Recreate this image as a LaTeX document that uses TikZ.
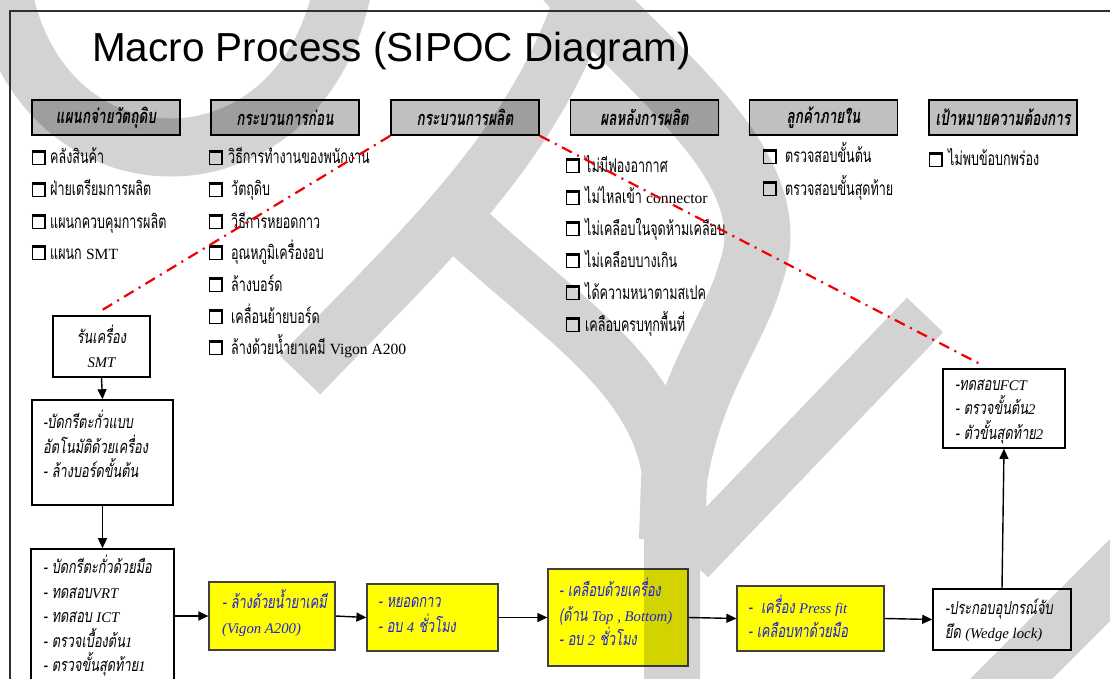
\documentclass[tikz,border=0pt]{standalone}
\usepackage{fontspec}
\setmainfont{Liberation Serif}
\newfontfamily\titlefont{Liberation Sans}
\newfontfamily\latfont[Scale=0.82]{Liberation Serif}
\newfontfamily\thaifont[Script=Thai,FakeStretch=0.66]{Loma}
\newfontfamily\thaibox[Script=Thai,FakeStretch=0.71]{Loma}
\newfontfamily\thaihead[Script=Thai,FakeStretch=0.68]{Loma}
\usetikzlibrary{arrows.meta}
\newcommand\lt[1]{{\latfont #1}}

\definecolor{hdrgray}{RGB}{192,192,192}
\definecolor{boxyellow}{RGB}{255,255,0}
\definecolor{inkblue}{RGB}{32,32,220}
\definecolor{dashred}{RGB}{240,0,0}
\definecolor{wmgray}{RGB}{211,211,211}
\definecolor{framegray}{RGB}{48,48,48}

\tikzset{
  hdr/.style={draw=black, line width=1.6pt, fill=hdrgray, minimum width=148pt,
    minimum height=35pt, inner sep=0pt},
  hdrtext/.style={inner sep=0pt, font=\thaihead\bfseries\itshape\fontsize{20}{22}\selectfont},
  item/.style={anchor=base west, inner sep=0pt, font=\thaifont\fontsize{19}{22}\selectfont},
  wbox/.style={draw=black, line width=1.6pt, fill=white, inner sep=0pt},
  ybox/.style={draw=black!75, line width=1.2pt, fill=boxyellow, inner sep=0pt},
  btext/.style={anchor=west, align=left, inner sep=0pt,
    font=\thaibox\itshape\fontsize{18}{24.5}\selectfont},
  arr/.style={line width=1.4pt, -{Triangle[length=10pt,width=9pt]}},
  redline/.style={dashred, line width=2.2pt, dash pattern=on 11pt off 6pt on 2pt off 6pt},
  wm/.style={wmgray, line cap=butt},
  chk/.pic={
    \draw[line width=0.9pt] (0,-6.5) rectangle (13,6.5);
    \draw[line width=2.3pt] (-0.5,-6.5) -- (13,-6.5) -- (13,7);
  }
}

% light grey watermark strokes
\newcommand\wmpaths{%
  \draw[wm, line width=58pt] (0,-25) .. controls (30,205) and (310,205) .. (345,-25);
  \draw[wm, line width=56pt] (300,375) .. controls (420,250) and (545,140) .. (590,-25);
  \draw[wm, line width=56pt] (450,215) .. controls (560,320) and (672,380) .. (672,500) -- (672,700);
  \draw[wm, line width=66pt] (565,-25) .. controls (660,80) and (790,170) .. (750,275)
        .. controls (735,330) and (690,380) .. (674,480) -- (672,540);
  \draw[wm, line width=50pt] (925,315) -- (690,560);
  \draw[wm, line width=58pt] (1160,530) -- (990,700);
}

\begin{document}
\begin{tikzpicture}[x=1pt,y=-1pt]
\useasboundingbox[fill=white] (0,0) rectangle (1110,679);

% watermark behind everything
\wmpaths

% page frame
\draw[framegray, line width=2.5pt] (10,700) -- (10,11) -- (1130,11);

% title
\node[anchor=base west, inner sep=0pt, font=\titlefont\fontsize{40.5}{44}\selectfont]
  (title) at (92,62) {Macro Process (SIPOC Diagram)};

% SIPOC column header boxes
\node[hdr] (h1) at (106,117.5)   {};
\node[hdr] (h2) at (285,117.5)   {};
\node[hdr] (h3) at (465,117.5)   {};
\node[hdr] (h4) at (644.5,117.5) {};
\node[hdr] (h5) at (823.5,117.5) {};
\node[hdr] (h6) at (1003,117.5)  {};

% process flow boxes
\node[wbox, minimum width=97pt,  minimum height=61pt]  (b1) at (101.5,346.5) {};
\node[wbox, minimum width=141pt, minimum height=105pt] (b2) at (102.5,452.5) {};
\node[wbox, minimum width=143pt, minimum height=151pt] (b3) at (102.5,624.5) {};
\node[ybox, minimum width=126pt, minimum height=68pt]  (y1) at (272,616) {};
\node[ybox, minimum width=131pt, minimum height=67pt]  (y2) at (432.5,617.5) {};
\node[ybox, minimum width=140pt, minimum height=97pt]  (y3) at (618,617.5) {};
\node[ybox, minimum width=147pt, minimum height=65pt]  (y4) at (810.5,618.5) {};
\node[wbox, minimum width=138pt, minimum height=61pt]  (w1) at (1002,619.5) {};
\node[wbox, minimum width=122pt, minimum height=79pt]  (w2) at (1004,408.5) {};

% the watermark shows through the filled boxes
\begin{scope}[blend mode=multiply]
  \clip (h1.south west) rectangle (h1.north east)
        (h2.south west) rectangle (h2.north east)
        (h3.south west) rectangle (h3.north east)
        (h4.south west) rectangle (h4.north east)
        (h5.south west) rectangle (h5.north east)
        (h6.south west) rectangle (h6.north east)
        (b1.south west) rectangle (b1.north east)
        (b2.south west) rectangle (b2.north east)
        (b3.south west) rectangle (b3.north east)
        (y1.south west) rectangle (y1.north east)
        (y2.south west) rectangle (y2.north east)
        (y3.south west) rectangle (y3.north east)
        (y4.south west) rectangle (y4.north east)
        (w1.south west) rectangle (w1.north east)
        (w2.south west) rectangle (w2.north east);
  \wmpaths
\end{scope}

% header texts
\node[hdrtext] (h1t) at (h1) {แผนกจ่ายวัตถุดิบ};
\node[hdrtext] (h2t) at (h2) {กระบวนการก่อน};
\node[hdrtext] (h3t) at (h3) {กระบวนการผลิต};
\node[hdrtext] (h4t) at (h4) {ผลหลังการผลิต};
\node[hdrtext] (h5t) at (h5) {ลูกค้าภายใน};
\node[hdrtext] (h6t) at (h6) {เป้าหมายความต้องการ};

% suppliers
\foreach \y in {158,190,222,253} \pic at (32,\y) {chk};
\node[item] (s1) at (50,164) {คลังสินค้า};
\node[item] (s2) at (50,196) {ฝ่ายเตรียมการผลิต};
\node[item] (s3) at (50,228) {แผนกควบคุมการผลิต};
\node[item] (s4) at (50,259) {แผนก \lt{SMT}};

% inputs
\foreach \y in {158,190,222,253,285,317,348} \pic at (209,\y) {chk};
\node[item] (i1) at (228,164) {วิธีการทำงานของพนักงาน};
\node[item] (i2) at (231,196) {วัตถุดิบ};
\node[item] (i3) at (231,228) {วิธีการหยอดกาว};
\node[item] (i4) at (231,259) {อุณหภูมิเครื่องอบ};
\node[item] (i5) at (231,291) {ล้างบอร์ด};
\node[item] (i6) at (231,323) {เคลื่อนย้ายบอร์ด};
\node[item] (i7) at (231,354) {ล้างด้วยน้ำยาเคมี \lt{Vigon A200}};

% outputs
\foreach \y in {166,198,229,261,293,325} \pic at (566,\y) {chk};
\node[item] (o1) at (585,172) {ไม่มีฟองอากาศ};
\node[item] (o2) at (585,204) {ไม่ไหลเข้า \lt{connector}};
\node[item] (o3) at (585,235) {ไม่เคลือบในจุดห้ามเคลือบ};
\node[item] (o4) at (585,267) {ไม่เคลือบบางเกิน};
\node[item] (o5) at (585,299) {ได้ความหนาตามสเปค};
\node[item] (o6) at (585,331) {เคลือบครบทุกพื้นที่};

% customers
\foreach \y in {157,189} \pic at (763,\y) {chk};
\node[item] (c1) at (785,163) {ตรวจสอบขั้นต้น};
\node[item] (c2) at (785,195) {ตรวจสอบขั้นสุดท้าย};

% requirements
\pic at (929,160) {chk};
\node[item] (r1) at (948,166) {ไม่พบข้อบกพร่อง};

% box texts
\node[btext, anchor=center, align=center] (b1t) at (b1) {รันเครื่อง\\\lt{SMT}};
\node[btext] (b2t) at (43,444) {-บัดกรีตะกั่วแบบ\\อัตโนมัติด้วยเครื่อง\\- ล้างบอร์ดขั้นต้น};
\node[btext] (b3t) at (43,616) {- บัดกรีตะกั่วด้วยมือ\\- ทดสอบ\lt{VRT}\\- ทดสอบ \lt{ICT}\\- ตรวจเบื้องต้น\lt{1}\\- ตรวจขั้นสุดท้าย\lt{1}};
\node[btext, text=inkblue] (y1t) at (222,613) {- ล้างด้วยน้ำยาเคมี\\\lt{(Vigon A200)}};
\node[btext, text=inkblue] (y2t) at (378,615) {- หยอดกาว\\- อบ \lt{4} ชั่วโมง};
\node[btext, text=inkblue] (y3t) at (559,612) {- เคลือบด้วยเครื่อง\\(ด้าน \lt{Top , Bottom)}\\- อบ \lt{2} ชั่วโมง};
\node[btext, text=inkblue] (y4t) at (748,616.5) {-\ \ เครื่อง \lt{Press fit}\\- เคลือบทาด้วยมือ};
\node[btext] (w1t) at (945,620) {-ประกอบอุปกรณ์จับ\\ยึด \lt{(Wedge lock)}};
\node[btext] (w2t) at (955,412) {-ทดสอบ\lt{FCT}\\- ตรวจขั้นต้น\lt{2}\\- ตัวขั้นสุดท้าย\lt{2}};

% flow connectors
\draw[arr] (b1.south) -- (b2.north);
\draw[arr] (b2.south) -- (b3.north);
\draw[arr] (b3.east |- y1.west) -- (y1.west);
\draw[arr] (y1.east) -- (y2.west);
\draw[arr] (y2.east) -- (y3.west);
\draw[arr] (y3.east) -- (y4.west);
\draw[arr] (y4.east) -- (w1.west);
\draw[arr] (w1.north) -- (w2.south);

% process scope lines
\coordinate (e1) at (99,312);
\coordinate (e2) at (982,365);
\draw[redline] (h3.south west) -- (e1);
\draw[redline] (h3.south east) -- (e2);
\end{tikzpicture}
\end{document}
